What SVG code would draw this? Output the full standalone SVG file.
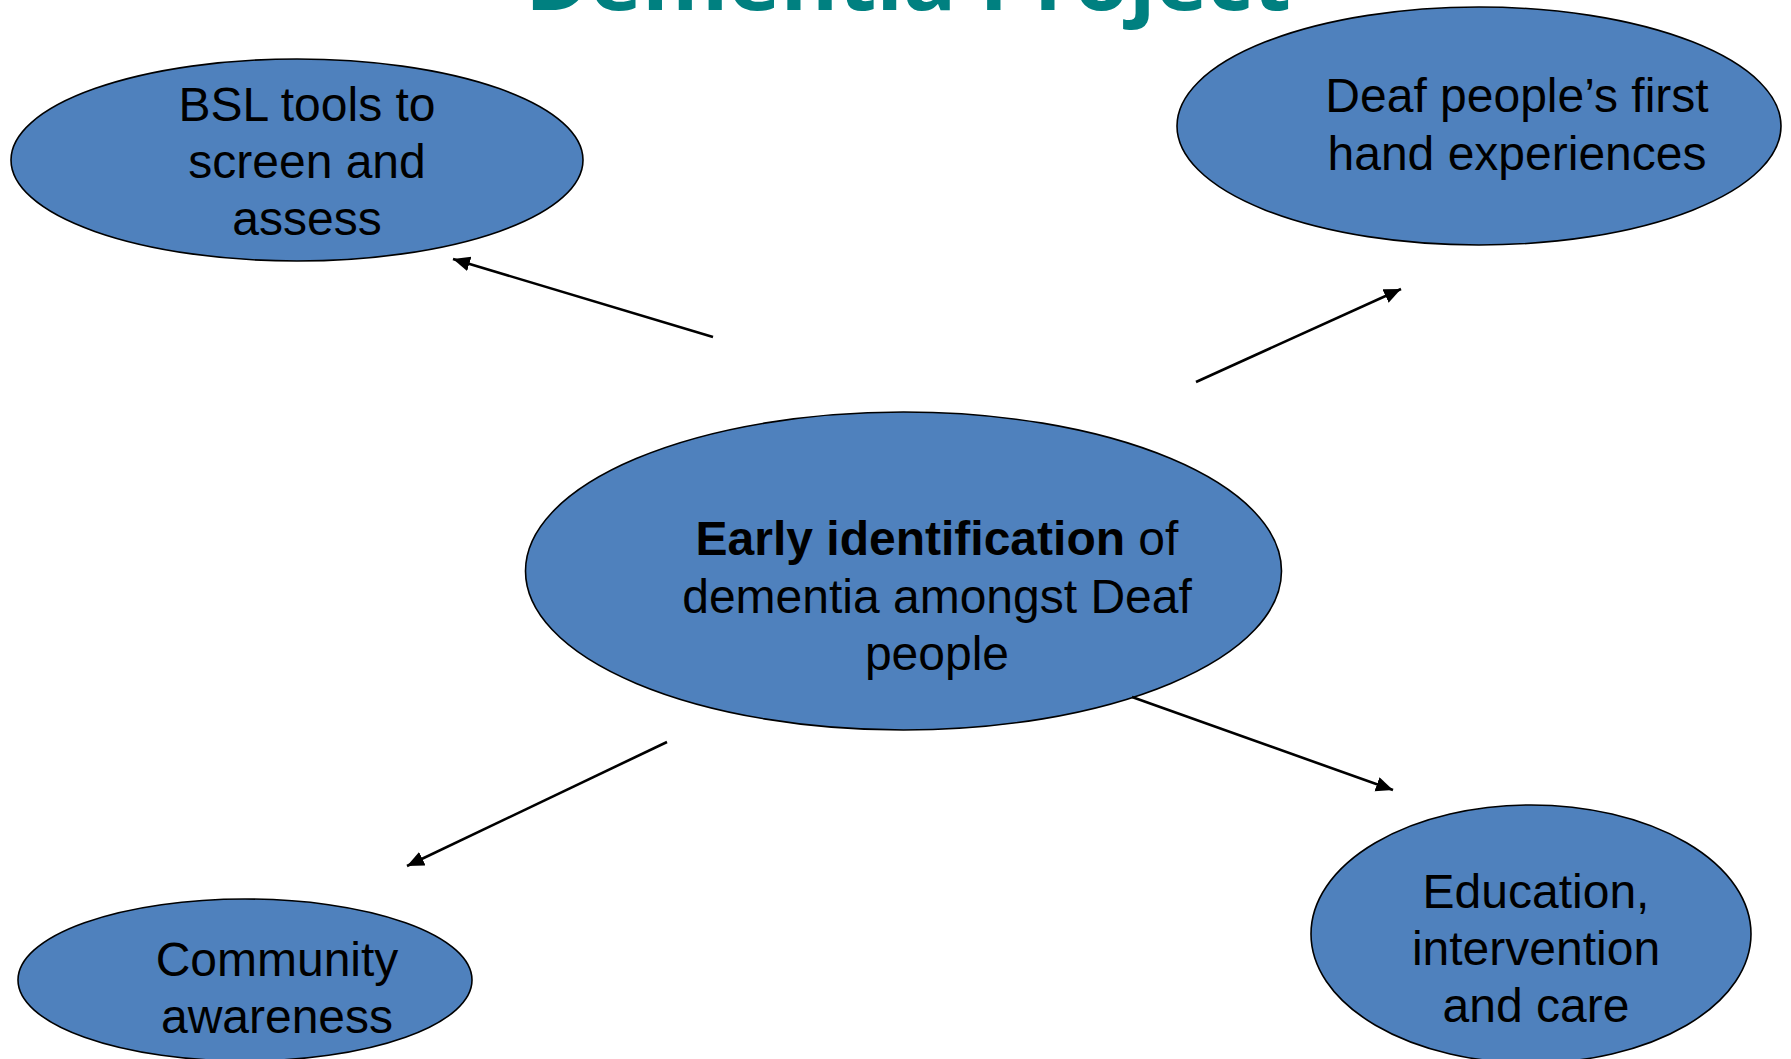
<svg xmlns="http://www.w3.org/2000/svg" width="1791" height="1059" viewBox="0 0 1791 1059">
<style>
.node ellipse{fill:#4F81BD;stroke:#000;stroke-width:1.6}
.lbl{font-family:"Liberation Sans",Arial,sans-serif;font-size:48px;fill:#000;text-anchor:middle}
.conn line{stroke:#000;stroke-width:2.6;marker-end:url(#ah)}
.title{font-family:"Open Sans","Noto Sans",sans-serif;font-weight:700;font-size:82px;fill:#008080}
</style>
<defs>
<marker id="ah" markerUnits="userSpaceOnUse" markerWidth="19" markerHeight="17" refX="17" refY="7.5" orient="auto">
<path d="M0,0 L17,7.5 L0,15 Z" fill="#000"/>
</marker>
</defs>
<rect width="1791" height="1059" fill="#fff"/>
<text class="title" x="525" y="10" textLength="766" lengthAdjust="spacingAndGlyphs">Dementia Project</text>
<g id="node-bsl" class="node">
<ellipse cx="297" cy="160" rx="286" ry="101"/>
<text class="lbl"><tspan x="307" y="121">BSL tools to</tspan><tspan x="307" y="178">screen and</tspan><tspan x="307" y="235">assess</tspan></text>
</g>
<g id="node-deaf" class="node">
<ellipse cx="1479" cy="126" rx="302" ry="119"/>
<text class="lbl"><tspan x="1517" y="112">Deaf people’s first</tspan><tspan x="1517" y="170">hand experiences</tspan></text>
</g>
<g id="node-center" class="node">
<ellipse cx="903.5" cy="571" rx="378" ry="159"/>
<text class="lbl"><tspan x="937" y="555"><tspan font-weight="700">Early identification</tspan> of</tspan><tspan x="937" y="613">dementia amongst Deaf</tspan><tspan x="937" y="670">people</tspan></text>
</g>
<g id="node-community" class="node">
<ellipse cx="245" cy="980" rx="227" ry="81"/>
<text class="lbl"><tspan x="277" y="976">Community</tspan><tspan x="277" y="1033">awareness</tspan></text>
</g>
<g id="node-education" class="node">
<ellipse cx="1531" cy="934" rx="220" ry="129"/>
<text class="lbl"><tspan x="1536" y="908">Education,</tspan><tspan x="1536" y="965">intervention</tspan><tspan x="1536" y="1022">and care</tspan></text>
</g>
<g id="connectors" class="conn">
<line x1="713" y1="337" x2="453" y2="259"/>
<line x1="1196" y1="382" x2="1401" y2="289"/>
<line x1="1132" y1="697" x2="1393" y2="790"/>
<line x1="667" y1="742" x2="407" y2="866"/>
</g>
</svg>
